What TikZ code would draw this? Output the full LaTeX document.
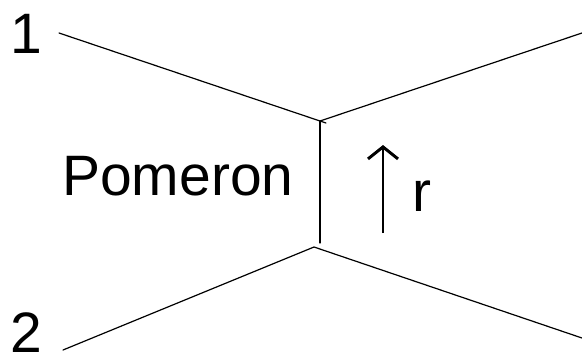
\documentclass[tikz,border=0pt]{standalone}
\usepackage{fontspec}
\setmainfont{Liberation Sans}
\usetikzlibrary{arrows.meta}
\begin{document}
\begin{tikzpicture}[x=1pt,y=-1pt,
  leg/.style={line width=1.2pt, line cap=round},
  lbl/.style={inner sep=0pt, anchor=base west, font=\fontsize{57}{60}\selectfont}]
\useasboundingbox (0,0) rectangle (582,360);
\coordinate (t) at (320,121);
\coordinate (b) at (314,247);
\coordinate (in1) at (59,33);
\coordinate (out1) at (582,33);
\coordinate (in2) at (63,350);
\coordinate (out2) at (582,338);
\coordinate (vb) at (320,243);
\coordinate (tick) at (326,123);
\draw[leg] (in1) -- (t) -- (out1);
\draw[leg] (in2) -- (b) -- (out2);
\draw[leg] (t) -- (vb);
\draw[leg] (t) -- (tick);
\node[lbl] (n1) at (10,53) {1};
\node[lbl] (n2) at (10,352) {2};
\node[lbl] (pom) at (62,195) {Pomeron};
\node[lbl] (r) at (412,211) {r};
\coordinate (a0) at (383,233);
\coordinate (a1) at (383,145);
\draw[line width=2.4pt, -{Straight Barb[length=12pt,width=30pt,line width=3pt]}] (a0) -- (a1);
\end{tikzpicture}
\end{document}
